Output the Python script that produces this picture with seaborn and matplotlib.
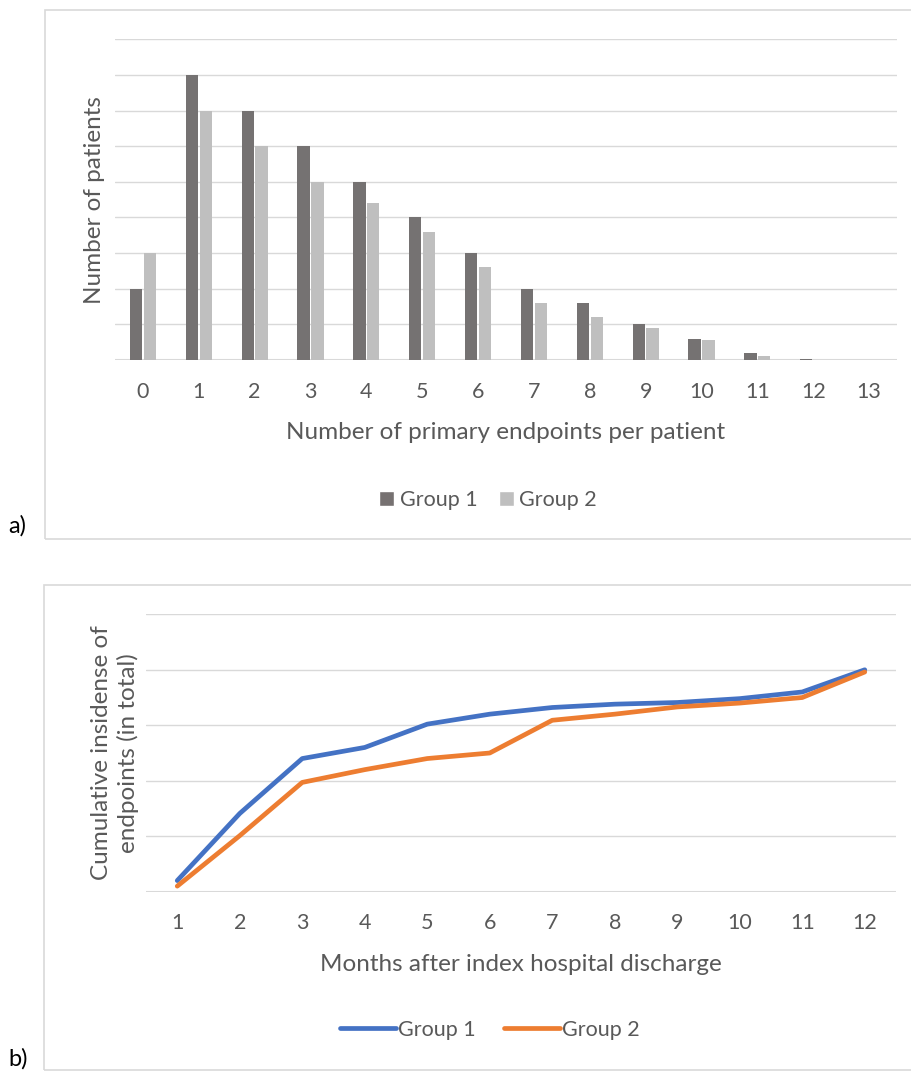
import pandas as pd
import matplotlib.pyplot as plt
import seaborn as sns
from matplotlib.patches import Rectangle, Patch
from matplotlib.lines import Line2D

# data (y axis has no labels, values in gridline units x10)
endpoints = [str(i) for i in range(14)]
group1_counts = [20, 80, 70, 60, 50, 40, 30, 20, 16, 10, 5.8, 1.9, 0.3, 0]
group2_counts = [30, 70, 60, 50, 44, 36, 26, 16, 12, 9, 5.5, 1.2, 0.1, 0]

months = list(range(1, 13))
group1_cum = [0.20, 1.41, 2.40, 2.60, 3.02, 3.20, 3.32, 3.38, 3.41, 3.48, 3.60, 4.00]
group2_cum = [0.10, 1.01, 1.97, 2.20, 2.40, 2.50, 3.09, 3.20, 3.33, 3.40, 3.50, 3.96]

groups = ['Group 1', 'Group 2']
bar_colors = ['#767171', '#BFBFBF']
line_colors = ['#4472C4', '#ED7D31']
text_col = '#595959'
grid_col = '#D9D9D9'

sns.set_style("white")
plt.rcParams['font.family'] = ['Lato', 'DejaVu Sans']

W, H = 912, 1073
fig = plt.figure(figsize=(W / 100, H / 100), dpi=100)


def px_axes(left, top, right, bottom):
    return fig.add_axes([left / W, 1 - bottom / H, (right - left) / W, (bottom - top) / H])


def style(ax):
    for s in ax.spines.values():
        s.set_visible(False)
    ax.yaxis.grid(True, color=grid_col, linewidth=1.0)
    ax.set_axisbelow(True)
    ax.axhline(0, color=grid_col, linewidth=1.5, zorder=0.5)
    ax.tick_params(axis='y', left=False, labelleft=False)
    ax.tick_params(axis='x', bottom=False, labelsize=15.5, colors=text_col, pad=12)


# panel frames
fig.add_artist(Rectangle((45 / W, 1 - 539 / H), (W + 5 - 45) / W, (539 - 10) / H,
                         transform=fig.transFigure, fill=False, edgecolor=grid_col, linewidth=1.2))
fig.add_artist(Rectangle((44 / W, 1 - 1070 / H), (W + 5 - 44) / W, (1070 - 585) / H,
                         transform=fig.transFigure, fill=False, edgecolor=grid_col, linewidth=1.2))
fig.text(8 / W, 1 - 526 / H, 'a)', fontsize=17, color='black', va='center')
fig.text(8 / W, 1 - 1059 / H, 'b)', fontsize=17, color='black', va='center')

# a) bar chart
df_a = pd.DataFrame({
    'endpoints': endpoints * 2,
    'patients': group1_counts + group2_counts,
    'group': ['Group 1'] * len(endpoints) + ['Group 2'] * len(endpoints),
})
ax1 = px_axes(115, 39.3, 897, 360)
sns.barplot(data=df_a, x='endpoints', y='patients', hue='group', palette=bar_colors,
            width=0.5, gap=0.12, ax=ax1, legend=False, edgecolor='none')
ax1.set_xlim(-0.5, 13.5)
ax1.set_ylim(0, 90)
ax1.set_yticks(range(0, 91, 10))
style(ax1)
ax1.set_xlabel('Number of primary endpoints per patient', fontsize=17.5, color=text_col, labelpad=15)
ax1.set_ylabel('Number of patients', fontsize=17.5, color=text_col, labelpad=7)
h1 = [Patch(facecolor=c, label=g) for c, g in zip(bar_colors, groups)]
fig.legend(handles=h1, loc='center', bbox_to_anchor=(488 / W, 1 - 500 / H), ncol=2,
           frameon=False, fontsize=15.5, labelcolor=text_col, handlelength=0.7,
           handleheight=0.7, handletextpad=0.25, columnspacing=1.0)

# b) line chart
df_b = pd.DataFrame({
    'month': months * 2,
    'cum': group1_cum + group2_cum,
    'group': ['Group 1'] * len(months) + ['Group 2'] * len(months),
})
ax2 = px_axes(146, 614.3, 896, 891.7)
sns.lineplot(data=df_b, x='month', y='cum', hue='group', palette=line_colors,
             linewidth=3.4, ax=ax2, legend=False, solid_capstyle='round', solid_joinstyle='round')
ax2.set_xlim(0.5, 12.5)
ax2.set_ylim(0, 5)
ax2.set_xticks(months)
ax2.set_yticks(range(0, 6))
style(ax2)
ax2.set_xlabel('Months after index hospital discharge', fontsize=17.5, color=text_col, labelpad=15)
ax2.set_ylabel('Cumulative insidense of\nendpoints (in total)', fontsize=17.5, color=text_col,
               labelpad=5, linespacing=1.3)
h2 = [Line2D([0], [0], color=c, linewidth=3.4, solid_capstyle='round', label=g)
      for c, g in zip(line_colors, groups)]
fig.legend(handles=h2, loc='center', bbox_to_anchor=(490 / W, 1 - 1030 / H), ncol=2,
           frameon=False, fontsize=15.5, labelcolor=text_col, handlelength=2.6,
           handletextpad=0.1, columnspacing=1.3)

fig.savefig('out.png', dpi=100)
